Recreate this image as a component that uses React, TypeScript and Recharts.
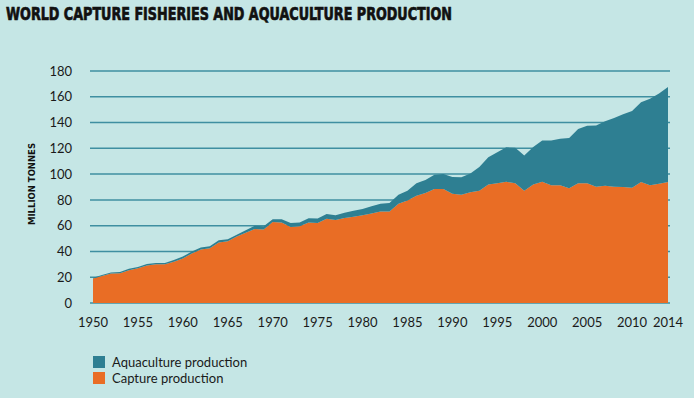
import React from 'react';
import { AreaChart, Area, XAxis, YAxis, CartesianGrid } from 'recharts';

const years = [
  1950, 1951, 1952, 1953, 1954, 1955, 1956, 1957, 1958, 1959,
  1960, 1961, 1962, 1963, 1964, 1965, 1966, 1967, 1968, 1969,
  1970, 1971, 1972, 1973, 1974, 1975, 1976, 1977, 1978, 1979,
  1980, 1981, 1982, 1983, 1984, 1985, 1986, 1987, 1988, 1989,
  1990, 1991, 1992, 1993, 1994, 1995, 1996, 1997, 1998, 1999,
  2000, 2001, 2002, 2003, 2004, 2005, 2006, 2007, 2008, 2009,
  2010, 2011, 2012, 2013, 2014,
];

// million tonnes
const capture = [
  19.0, 21.0, 22.8, 23.0, 25.5, 27.0, 29.0, 30.0, 30.0, 32.0,
  34.5, 38.5, 41.5, 42.5, 47.0, 48.0, 51.5, 54.5, 57.5, 57.0,
  62.8, 62.5, 59.0, 59.5, 62.5, 62.0, 65.4, 64.3, 66.0, 67.0,
  68.0, 69.5, 71.0, 71.0, 77.0, 79.5, 83.3, 85.4, 88.5, 88.5,
  84.8, 84.0, 86.0, 87.0, 92.0, 93.0, 94.0, 93.0, 87.0, 92.0,
  94.0, 91.3, 91.3, 89.0, 93.0, 93.0, 90.2, 91.0, 90.2, 90.0,
  89.5, 93.9, 91.3, 92.5, 93.9,
];

const aquaculture = [
  0.6, 0.8, 0.8, 1.0, 1.0, 1.0, 1.2, 1.0, 1.0, 1.3,
  1.5, 1.5, 1.5, 1.5, 1.6, 1.5, 1.5, 2.0, 2.5, 2.5,
  2.2, 2.5, 3.0, 3.0, 3.2, 3.5, 3.6, 3.7, 4.0, 4.5,
  5.0, 5.5, 6.0, 6.5, 7.0, 7.5, 9.7, 10.1, 11.0, 11.5,
  12.9, 13.5, 14.5, 18.5, 21.0, 24.0, 26.8, 27.5, 27.5, 29.0,
  32.0, 34.7, 36.2, 39.0, 42.0, 44.5, 47.6, 50.0, 53.3, 56.5,
  59.5, 61.8, 67.2, 70.0, 73.6,
];

const xTicks = [1950, 1955, 1960, 1965, 1970, 1975, 1980, 1985, 1990, 1995, 2000, 2005, 2010, 2014];
const yTicks = [0, 20, 40, 60, 80, 100, 120, 140, 160, 180];

const data = years.map((year, i) => ({
  year,
  capture: capture[i],
  aquaculture: aquaculture[i],
}));

const BG = '#c5e6e5';
const TEAL = '#2e7f92';
const ORANGE = '#e96d25';
const FONT = 'Lato, "DejaVu Sans", sans-serif';
const COND = '"DejaVu Sans Condensed", "DejaVu Sans", sans-serif';

const App: React.FC = () => {
  return (
    <div
      style={{
        position: 'absolute',
        left: 0,
        top: 0,
        width: 694,
        height: 398,
        background: BG,
        fontFamily: FONT,
        overflow: 'hidden',
      }}
    >
      <svg width={694} height={30} style={{ position: 'absolute', left: 0, top: 0 }}>
        <text
          x={6}
          y={20}
          fontFamily={COND}
          fontWeight="bold"
          fontSize={18}
          fill="#111"
          stroke="#111"
          strokeWidth={0.7}
          textLength={446}
          lengthAdjust="spacingAndGlyphs"
        >
          WORLD CAPTURE FISHERIES AND AQUACULTURE PRODUCTION
        </text>
      </svg>

      <svg width={30} height={398} style={{ position: 'absolute', left: 18, top: 0 }}>
        <text
          transform="translate(17,184) rotate(-90)"
          textAnchor="middle"
          fontFamily={COND}
          fontWeight="bold"
          fontSize={9}
          fill="#111"
          textLength={82}
          lengthAdjust="spacingAndGlyphs"
        >
          MILLION TONNES
        </text>
      </svg>

      <AreaChart
        width={694}
        height={398}
        data={data}
        margin={{ top: 71, right: 24, left: 30, bottom: 65 }}
      >
        <CartesianGrid vertical={false} stroke="#3f8fa1" strokeWidth={1.5} />
        <XAxis
          dataKey="year"
          type="number"
          domain={[1950, 2014]}
          ticks={xTicks}
          interval={0}
          padding={{ left: 3, right: 2 }}
          axisLine={false}
          tickLine={false}
          tickSize={0}
          tickMargin={15}
          height={30}
          tick={{ fill: '#1a1a1a', fontSize: 13, fontFamily: FONT }}
        />
        <YAxis
          domain={[0, 180]}
          ticks={yTicks}
          interval={0}
          axisLine={false}
          tickLine={false}
          tickSize={0}
          tickMargin={18}
          width={60}
          tick={{ fill: '#1a1a1a', fontSize: 13, fontFamily: FONT }}
        />
        <Area
          type="linear"
          dataKey="capture"
          stackId="1"
          stroke="none"
          fill={ORANGE}
          fillOpacity={1}
          isAnimationActive={false}
        />
        <Area
          type="linear"
          dataKey="aquaculture"
          stackId="1"
          stroke="none"
          fill={TEAL}
          fillOpacity={1}
          isAnimationActive={false}
        />
      </AreaChart>

      <div style={{ position: 'absolute', left: 93, top: 355, fontSize: 13, color: '#1a1a1a', lineHeight: '14px' }}>
        <div style={{ display: 'flex', alignItems: 'center', marginBottom: 2 }}>
          <span style={{ width: 12, height: 12, background: TEAL, display: 'inline-block', marginRight: 7 }} />
          Aquaculture production
        </div>
        <div style={{ display: 'flex', alignItems: 'center' }}>
          <span style={{ width: 12, height: 12, background: ORANGE, display: 'inline-block', marginRight: 7 }} />
          Capture production
        </div>
      </div>
    </div>
  );
};

export default App;
